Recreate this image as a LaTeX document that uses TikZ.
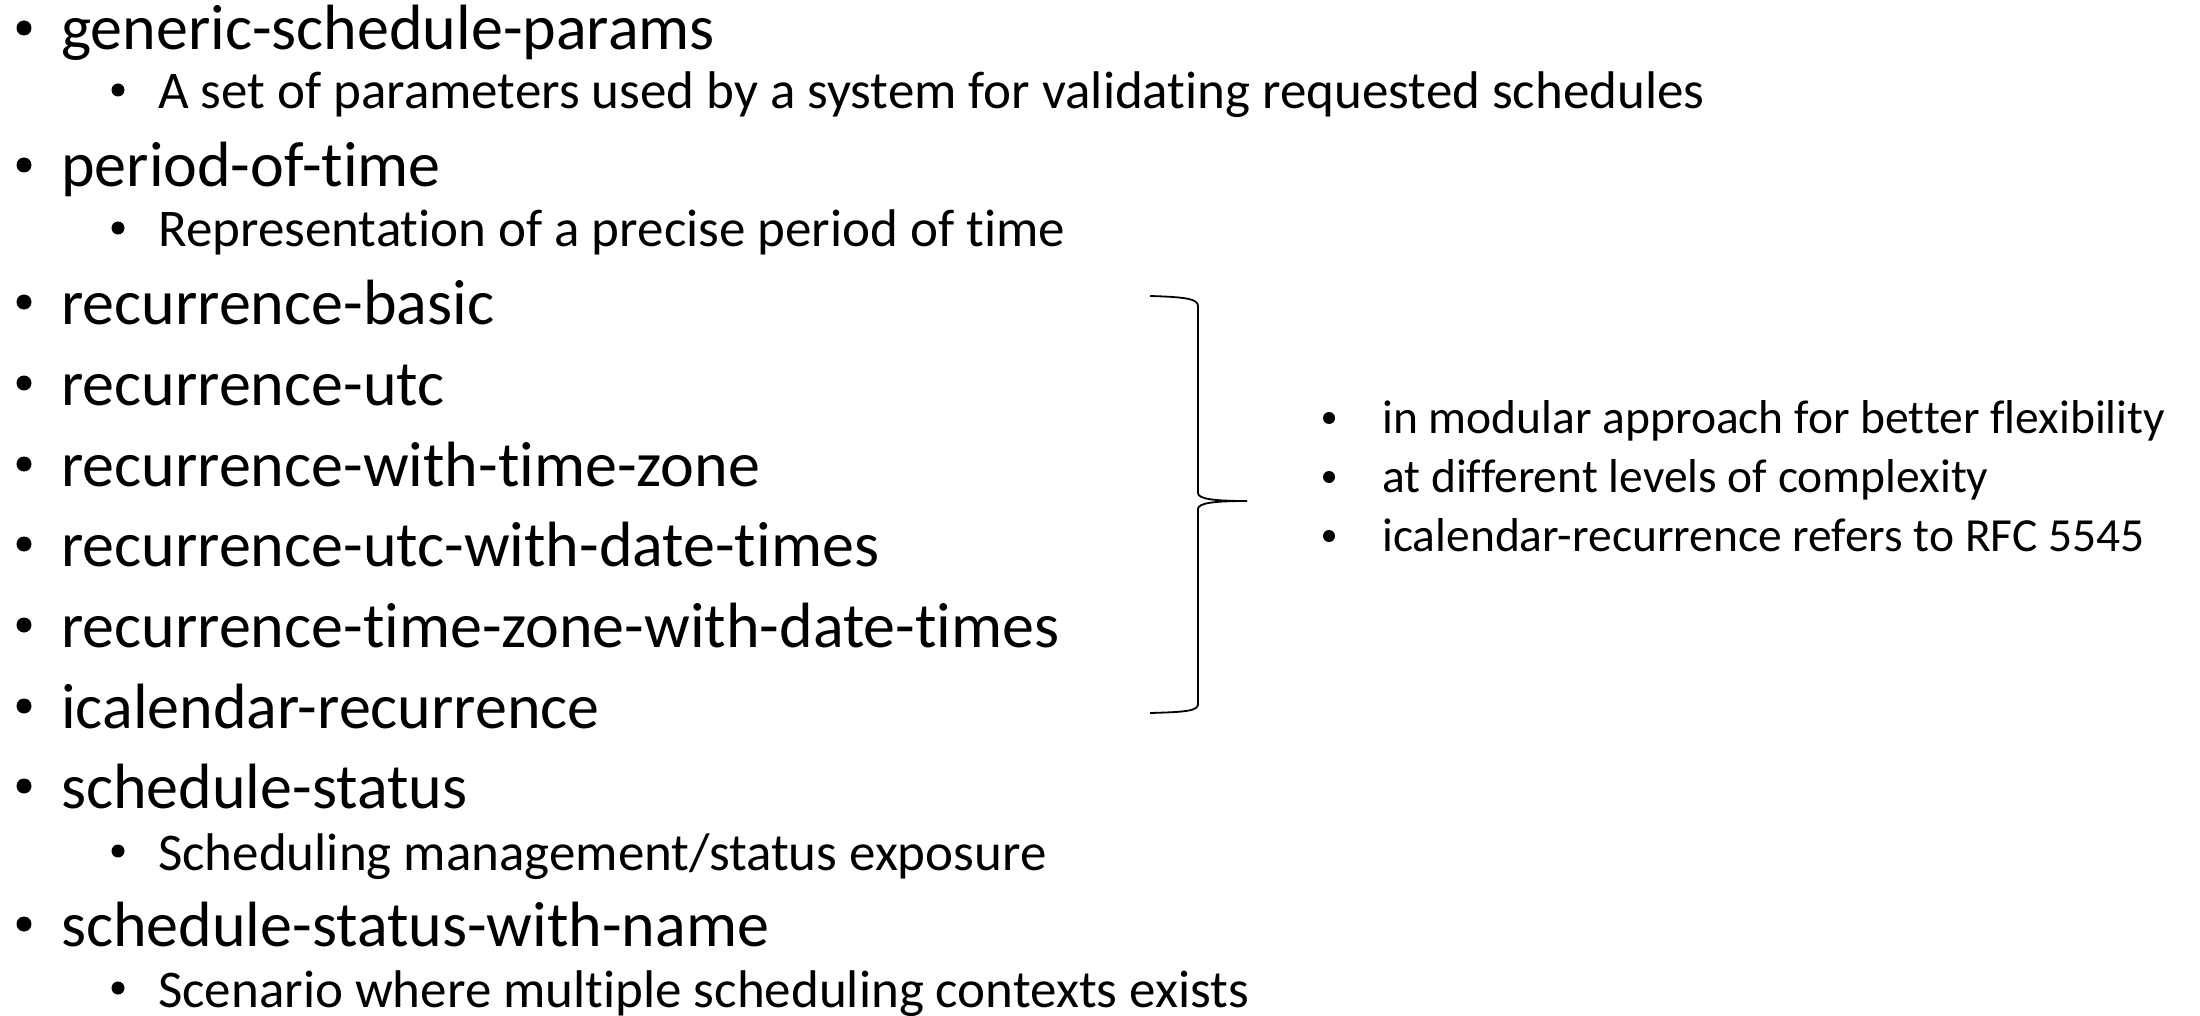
\documentclass[tikz,border=0pt]{standalone}
\usepackage{fontspec}
\setmainfont{Carlito}[Ligatures={NoCommon,NoContextual}]
\usetikzlibrary{calc}
\begin{document}
\begin{tikzpicture}[x=1pt,y=1pt,
  mainitem/.style={anchor=base west, inner sep=0pt, font=\fontsize{64}{70}\selectfont},
  subitem/.style={anchor=base west, inner sep=0pt, font=\fontsize{53}{60}\selectfont},
  noteitem/.style={anchor=base west, inner sep=0pt, font=\fontsize{47.5}{55}\selectfont},
  dot/.style={circle, fill=black, draw=none, inner sep=0pt, minimum size=#1},
  bracestyle/.style={draw=black, line width=1.8pt}
]
\useasboundingbox (0,0) rectangle (2200,-1016);
% main list
\node[mainitem] (t1) at (61,-50) {generic-schedule-params};
\node[subitem] (t1a) at (158,-109) {A set of parameters used by a system for validating requested schedules};
\node[mainitem] (t2) at (61,-187) {period-of-time};
\node[subitem] (t2a) at (158,-247) {Representation of a precise period of time};
\node[mainitem] (t3) at (61,-324) {recurrence-basic};
\node[mainitem] (t4) at (61,-405) {recurrence-utc};
\node[mainitem] (t5) at (61,-486) {recurrence-with-time-zone};
\node[mainitem] (t6) at (61,-566) {recurrence-utc-with-date-times};
\node[mainitem] (t7) at (61,-647) {recurrence-time-zone-with-date-times};
\node[mainitem] (t8) at (61,-728) {icalendar-recurrence};
\node[mainitem] (t9) at (61,-808) {schedule-status};
\node[subitem] (t9a) at (158,-870) {Scheduling management/status exposure};
\node[mainitem] (t10) at (61,-946) {schedule-status-with-name};
\node[subitem] (t10a) at (158,-1007) {Scenario where multiple scheduling contexts exists};
% main bullets
\foreach \t in {t1,t2,t3,t4,t5,t6,t7,t8,t9,t10}
  \node[dot=15pt] (b\t) at ($(\t.base west)+(-37,22)$) {};
\foreach \t in {t1a,t2a,t9a,t10a}
  \node[dot=13pt] (b\t) at ($(\t.base west)+(-40,19)$) {};
% brace
\draw[bracestyle] (1150,-296) .. controls (1186,-297) and (1198,-299) .. (1198,-306)
  -- (1198,-493) .. controls (1198,-499) and (1214,-501) .. (1247,-501)
  .. controls (1214,-501) and (1198,-503) .. (1198,-509)
  -- (1198,-704) .. controls (1198,-711) and (1186,-712) .. (1150,-713);
% notes
\node[noteitem] (n1) at (1382,-433) {in modular approach for better flexibility};
\node[noteitem] (n2) at (1382,-492) {at different levels of complexity};
\node[noteitem] (n3) at (1382,-551) {icalendar-recurrence refers to RFC 5545};
\foreach \t in {n1,n2,n3}
  \node[dot=12pt] (b\t) at ($(\t.base west)+(-53,15)$) {};
\end{tikzpicture}
\end{document}
